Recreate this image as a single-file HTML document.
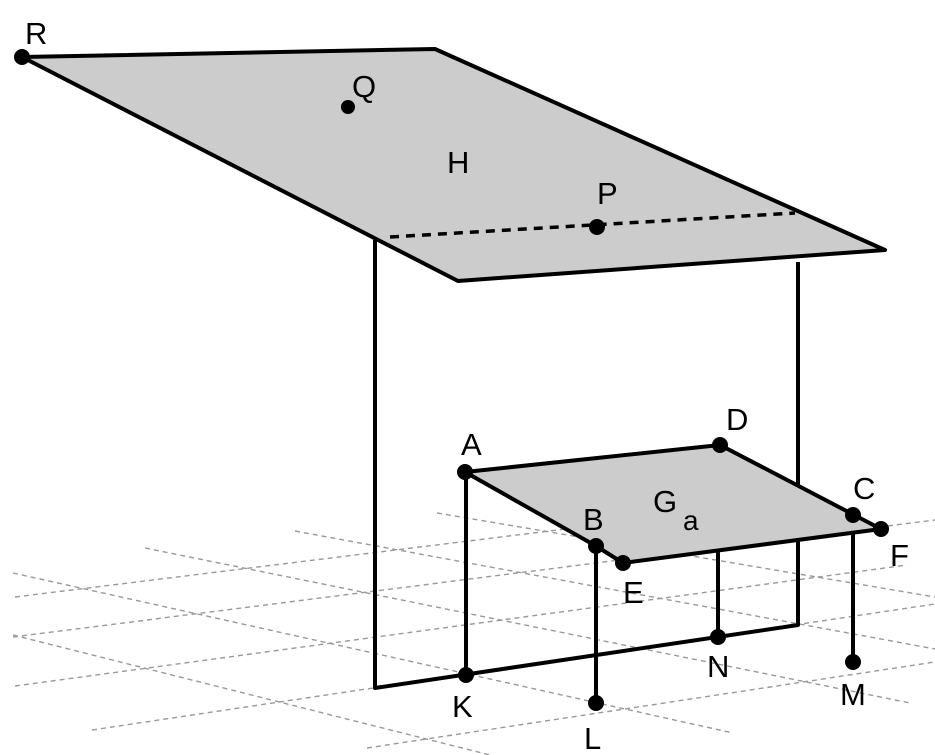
<!DOCTYPE html>
<html><head><meta charset="utf-8"><style>
html,body{margin:0;padding:0;background:#fff;}
svg{display:block;}
text{font-family:"Liberation Sans",sans-serif;font-size:31px;fill:#000;}
</style></head><body>
<svg width="935" height="755" viewBox="0 0 935 755" xmlns="http://www.w3.org/2000/svg">
<g stroke="#999" stroke-width="1.4" stroke-dasharray="5,4" fill="none">
<line x1="15" y1="597" x2="760" y2="505"/>
<line x1="13" y1="637" x2="935" y2="520"/>
<line x1="15" y1="686" x2="907" y2="565"/>
<line x1="92" y1="730" x2="935" y2="604"/>
<line x1="367" y1="748" x2="935" y2="662"/>
<line x1="437" y1="513" x2="935" y2="597"/>
<line x1="295" y1="531" x2="935" y2="649"/>
<line x1="145" y1="548" x2="910" y2="703"/>
<line x1="13" y1="573" x2="733" y2="733"/>
<line x1="13" y1="635" x2="490" y2="755"/>
</g>
<g stroke="#000" stroke-width="4" fill="none" stroke-linejoin="round">
<polyline points="375,240 375,688 798,625 798,262"/>
</g>
<polygon points="22,57 435,49 885,250 458,281" fill="#cccccc" stroke="#000" stroke-width="4" stroke-linejoin="round"/>
<line x1="390" y1="237" x2="795" y2="213" stroke="#000" stroke-width="3.5" stroke-dasharray="9,7"/>
<g stroke="#000" stroke-width="4">
<line x1="466" y1="472" x2="466" y2="675"/>
<line x1="596" y1="546" x2="596" y2="703"/>
<line x1="718" y1="550" x2="718" y2="637"/>
<line x1="853" y1="530" x2="853" y2="662"/>
</g>
<polygon points="465,472 720,445 881,529 623,563 596,546" fill="#cccccc" stroke="#000" stroke-width="4" stroke-linejoin="round"/>
<g fill="#000">
<circle cx="22" cy="57" r="8"/>
<circle cx="348" cy="107" r="7"/>
<circle cx="597" cy="227" r="8"/>
<circle cx="465" cy="472" r="8"/>
<circle cx="720" cy="445" r="8"/>
<circle cx="853" cy="515" r="8"/>
<circle cx="881" cy="529" r="8"/>
<circle cx="596" cy="546" r="8"/>
<circle cx="623" cy="563" r="8"/>
<circle cx="466" cy="675" r="8"/>
<circle cx="596" cy="703" r="8"/>
<circle cx="718" cy="637" r="8"/>
<circle cx="853" cy="662" r="8"/>
</g>
<text x="25" y="44">R</text>
<text x="352" y="97">Q</text>
<text x="447" y="173">H</text>
<text x="597" y="204">P</text>
<text x="461" y="455">A</text>
<text x="726" y="430">D</text>
<text x="583" y="530">B</text>
<text x="653" y="512">G</text><text x="683" y="530" style="font-size:28px">a</text>
<text x="853" y="499">C</text>
<text x="890" y="566">F</text>
<text x="623" y="603">E</text>
<text x="707" y="677">N</text>
<text x="840" y="705">M</text>
<text x="452" y="717">K</text>
<text x="584" y="749">L</text>
</svg>
</body></html>
